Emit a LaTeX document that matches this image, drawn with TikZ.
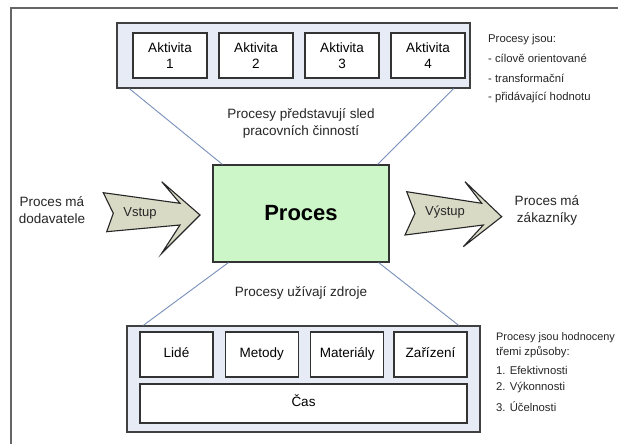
\documentclass[tikz,border=0pt]{standalone}
\usepackage{fontspec}
\setmainfont{Liberation Sans}
\usetikzlibrary{calc}
\definecolor{grpfill}{HTML}{E6EBF5}
\definecolor{procfill}{HTML}{CCF5C8}
\definecolor{arrfill}{HTML}{D9DAC6}
\definecolor{linkc}{HTML}{7890BA}
\definecolor{framec}{HTML}{666666}
\begin{document}
\begin{tikzpicture}[x=1pt,y=-1pt,
  grp/.style={draw=black!75, line width=1.3pt, fill=grpfill, inner sep=0pt, minimum width=353pt},
  box/.style={draw=black!80, line width=1.1pt, fill=white, inner sep=0pt, minimum height=45pt, align=center, font=\fontsize{13.5}{16}\selectfont},
  onebox/.style={box, text height=9.7pt, text depth=2.8pt},
  conn/.style={draw=linkc, line width=0.9pt},
  lbl/.style={align=center, inner sep=0pt, font=\fontsize{13.5}{16.5}\selectfont, text=black!85},
  note/.style={anchor=west, inner sep=0pt, font=\fontsize{11.3}{13}\selectfont, text=black!85},
  arrowshape/.style={draw=black!85, line width=1.1pt, fill=arrfill, line join=miter}]

\useasboundingbox (0,0) rectangle (618,444);
\fill[white] (0,0) rectangle (618,444);
\begin{scope}
  \clip (0,0) rectangle (618,444);
  \draw[line width=1.6pt, draw=framec] (11,8) rectangle (700,500);
\end{scope}

% top group
\node[grp, minimum height=65pt] (topgrp) at (293.5,55.5) {};
\foreach \i/\x in {1/170,2/256,3/342,4/428}
  \node[box, minimum width=74pt] (a\i) at (\x,55.5) {Aktivita\\\i};

% process
\node[draw=black!80, fill=procfill, line width=1.2pt, inner sep=0pt,
      minimum width=176pt, minimum height=97pt,
      font=\fontsize{22}{26}\selectfont\bfseries] (proc) at (301,213.5) {Proces};

% bottom group
\node[grp, minimum height=106pt] (botgrp) at (303.5,379) {};
\node[onebox, minimum width=73pt] (lide) at (176.5,354.5) {Lidé};
\node[onebox, minimum width=73pt] (metody) at (261.8,354.5) {Metody};
\node[onebox, minimum width=73pt] (mat) at (347.2,354.5) {Materiály};
\node[onebox, minimum width=73pt] (zar) at (430.5,354.5) {Zařízení};
\node[onebox, minimum width=327pt, minimum height=39pt] (cas) at (303.5,403.5) {Čas};

% connectors
\draw[conn] ($(topgrp.south west)+(13pt,0pt)$) -- ($(proc.north west)+(10pt,0pt)$);
\draw[conn] ($(topgrp.south east)+(-17pt,0pt)$) -- ($(proc.north east)+(-12pt,0pt)$);
\draw[conn] ($(proc.south west)+(16pt,0pt)$) -- ($(botgrp.north west)+(17pt,0pt)$);
\draw[conn] ($(proc.south east)+(-11pt,0pt)$) -- ($(botgrp.north east)+(-22pt,0pt)$);

% arrows
\draw[arrowshape] (103.3,192.7) -- (180,203.3) -- (161.7,181.7) -- (200,215)
  -- (161.7,253.3) -- (180,225) -- (106.7,231.7) -- (113.3,213.3) -- cycle;
\node[lbl, font=\fontsize{13}{16}\selectfont] (vstup) at (140,213) {Vstup};
\draw[arrowshape] (406.7,191.7) -- (481.7,203.3) -- (465,181.7) -- (501.7,216.7)
  -- (463.3,246.7) -- (483.3,225) -- (405,235) -- (415,213.3) -- cycle;
\node[lbl, font=\fontsize{13}{16}\selectfont] (vystup) at (445,212) {Výstup};

% labels
\node[lbl] (dod) at (52,210) {Proces má\\dodavatele};
\node[lbl] (zak) at (547,210.5) {Proces má\\zákazníky};
\node[lbl] (sled) at (301,123.5) {Procesy představují sled\\pracovních činností};
\node[lbl] (zdroje) at (301,293) {Procesy užívají zdroje};

% notes top right
\node[note] (n1) at (488,40) {Procesy jsou:};
\node[note] (n2) at (488,58) {- cílově orientované};
\node[note] (n3) at (488,78) {- transformační};
\node[note] (n4) at (488,98) {- přidávající hodnotu};

% notes bottom right
\node[note, font=\fontsize{10.9}{13}\selectfont] (m1) at (496,338) {Procesy jsou hodnoceny};
\node[note] (m2) at (496,352) {třemi způsoby:};
\node[note] (m3) at (496,370) {1. Efektivnosti};
\node[note] (m4) at (496,388) {2. Výkonnosti};
\node[note] (m5) at (496,407) {3. Účelnosti};
\end{tikzpicture}
\end{document}
